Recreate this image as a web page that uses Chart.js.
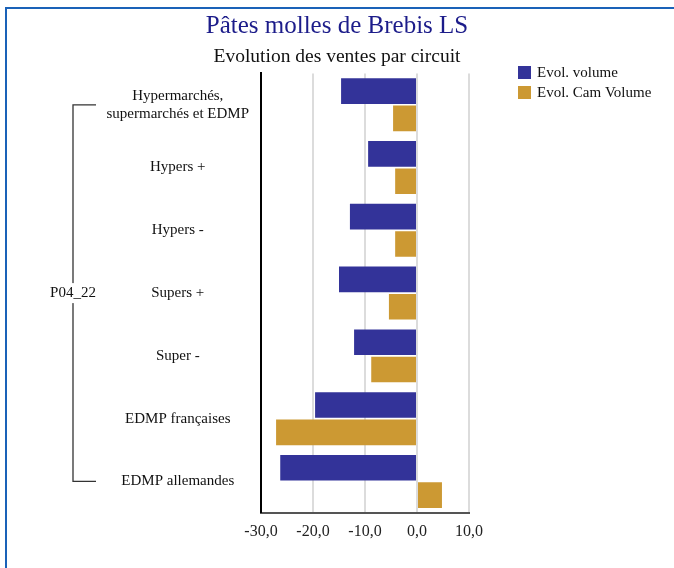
<!DOCTYPE html>
<html>
<head>
<meta charset="utf-8">
<script src="https://cdn.jsdelivr.net/npm/chart.js@4"></script>
<style>
  html, body { margin:0; padding:0; background:#fff; overflow:hidden; }
  #wrap { position:relative; width:674px; height:568px; }
  #frame { position:absolute; left:5px; top:7px; width:720px; height:620px;
           border-top:2px solid #1a62b8; border-left:2px solid #1a62b8; pointer-events:none; }
  canvas { position:absolute; left:0; top:0; }
</style>
</head>
<body>
<div id="wrap">
  <canvas id="chart" width="674" height="568"></canvas>
  <div id="frame"></div>
</div>
<script>
// Pâtes molles de Brebis LS — évolution des ventes par circuit (P04_22)

const categories = [
  ["Hypermarchés,", "supermarchés et EDMP"],
  "Hypers +",
  "Hypers -",
  "Supers +",
  "Super -",
  "EDMP françaises",
  "EDMP allemandes",
];
const evolVolume    = [-14.6, -9.4, -12.9, -15.0, -12.1, -19.6, -26.3];
const evolCamVolume = [-4.6, -4.2, -4.2, -5.4, -8.8, -27.1, 4.8];
const xTicks = [-30, -20, -10, 0, 10];
const groupLabel = "P04_22";

const SERIF = "'Liberation Serif', 'DejaVu Serif', serif";
const BLUE = "#333399";
const GOLD = "#cc9933";

function fmtTick(v){
  return Number(v).toFixed(1).replace(".", ",");
}

// bracket on the left grouping all circuits under the period label
const groupBracket = {
  id: "groupBracket",
  afterDraw(chart){
    const y = chart.scales.y;
    const ctx = chart.ctx;
    const top = y.getPixelForValue(0);
    const bot = y.getPixelForValue(categories.length - 1);
    const x = 73, x2 = 96;
    ctx.save();
    ctx.strokeStyle = "#333";
    ctx.lineWidth = 1.3;
    ctx.beginPath();
    ctx.moveTo(x2, top); ctx.lineTo(x, top); ctx.lineTo(x, bot); ctx.lineTo(x2, bot);
    ctx.stroke();
    ctx.font = "15px " + SERIF;
    const mid = (top + bot) / 2;
    const w = ctx.measureText(groupLabel).width;
    ctx.fillStyle = "#fff";
    ctx.fillRect(x - w/2 - 2, mid - 10, w + 4, 20);
    ctx.fillStyle = "#111";
    ctx.textAlign = "center";
    ctx.textBaseline = "middle";
    ctx.fillText(groupLabel, x, mid);
    ctx.restore();
  }
};

// legend drawn at a fixed spot to the right of the plot
const sideLegend = {
  id: "sideLegend",
  afterDraw(chart){
    const ctx = chart.ctx;
    ctx.save();
    ctx.font = "15px " + SERIF;
    ctx.textBaseline = "middle";
    ctx.textAlign = "left";
    chart.data.datasets.forEach((ds, i)=>{
      const yy = 66 + i * 20;
      ctx.fillStyle = ds.backgroundColor;
      ctx.fillRect(518, yy, 13, 13);
      ctx.fillStyle = "#111";
      ctx.fillText(ds.label, 537, yy + 7);
    });
    ctx.restore();
  }
};

new Chart(document.getElementById("chart").getContext("2d"), {
  type: "bar",
  data: {
    labels: categories,
    datasets: [
      { label: "Evol. volume", data: evolVolume, backgroundColor: BLUE },
      { label: "Evol. Cam Volume", data: evolCamVolume, backgroundColor: GOLD },
    ]
  },
  options: {
    indexAxis: "y",
    responsive: false,
    animation: false,
    categoryPercentage: 0.87,
    barPercentage: 0.94,
    layout: { padding: { left: 0, right: 0, top: 0, bottom: 18 } },
    plugins: {
      legend: { display: false },
      tooltip: { enabled: false },
      title: {
        display: true,
        text: "Pâtes molles de Brebis LS",
        color: "#1c1c8a",
        font: { family: SERIF, size: 25, weight: "normal" },
        padding: { top: 11, bottom: 2 }
      },
      subtitle: {
        display: true,
        text: "Evolution des ventes par circuit",
        color: "#111",
        font: { family: SERIF, size: 19.5, weight: "normal" },
        padding: { top: 2, bottom: 5 }
      }
    },
    scales: {
      x: {
        min: -30, max: 10,
        afterBuildTicks(scale){ scale.ticks = xTicks.map(v=>({ value: v })); },
        ticks: {
          callback: fmtTick,
          color: "#222",
          font: { family: SERIF, size: 16 },
          padding: 9,
          maxRotation: 0
        },
        grid: { color: "#dcdcdc", lineWidth: 2, drawTicks: false },
        border: { display: true, color: "#555", width: 2 }
      },
      y: {
        afterFit(scale){ scale.width = 261; },
        ticks: {
          crossAlign: "center",
          color: "#111",
          font: { family: SERIF, size: 15, lineHeight: 1.2 },
          padding: 12
        },
        grid: { display: false, drawTicks: false },
        border: { display: true, color: "#000", width: 2 }
      },
      // empty right-hand column that holds the legend
      side: {
        type: "category",
        position: "right",
        afterFit(scale){ scale.width = 205; },
        ticks: { display: false },
        grid: { display: false, drawTicks: false },
        border: { display: false }
      }
    }
  },
  plugins: [groupBracket, sideLegend]
});
</script>
</body>
</html>
